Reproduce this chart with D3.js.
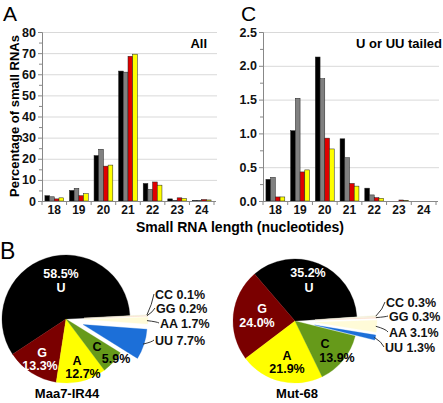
<!DOCTYPE html>
<html><head><meta charset="utf-8">
<script src="https://cdn.jsdelivr.net/npm/d3@7"></script>
<style>
body{margin:0;background:#fff;}
svg{display:block;}
text{font-family:'Liberation Sans',Arial,Helvetica,sans-serif;}
</style></head>
<body><svg id="c" width="443" height="403" font-family="Liberation Sans, Arial, sans-serif"></svg>
<script>
// ---- data ----
const lengths = ["18","19","20","21","22","23","24"];
const seriesNames = ["s1","s2","s3","s4"];
const seriesColors = ["#000000","#808080","#e00000","#ffff00"];
const allValues = [
  [2.5, 5.0, 21.5, 61.5, 8.3, 1.0, 0.2],
  [2.0, 6.0, 24.5, 61.0, 5.5, 0.3, 0.2],
  [1.0, 2.5, 16.5, 68.5, 9.0, 1.5, 0.7],
  [1.5, 3.5, 17.0, 69.5, 7.5, 1.2, 0.5]
];
const tailedValues = [
  [0.32, 1.04, 2.13, 0.92, 0.19, 0.0, 0.0],
  [0.35, 1.52, 1.81, 0.64, 0.09, 0.0, 0.0],
  [0.06, 0.43, 0.93, 0.26, 0.05, 0.015, 0.0],
  [0.06, 0.46, 0.77, 0.22, 0.04, 0.01, 0.0]
];
const allTicks = [0,10,20,30,40,50,60,70,80];
const tailedTicks = [0,0.5,1.0,1.5,2.0,2.5];

const pieNames = ["U","G","A","C","UU","AA","GG","CC"];
const pieColors = ["#000000","#7a0000","#ffff00","#669a1a","#1c6fd8","#fffbd8","#fbe0cf","#f3f0da"];
const maaValues = [58.5, 13.3, 12.7, 5.9, 7.7, 1.7, 0.2, 0.1];
const mutValues = [35.2, 24.0, 21.9, 13.9, 1.3, 3.1, 0.3, 0.3];
const pieTitles = ["Maa7-IR44","Mut-68"];

// ---- layout ----
const svg = d3.select("#c");
const FONT = "Liberation Sans, Arial, sans-serif";
const bold = "bold";

function barChart(opt){
  const g = svg.append("g");
  const x0 = d3.scaleBand().domain(lengths).range([opt.x0, opt.x1]);
  const x1 = d3.scaleBand().domain(seriesNames).range([0, x0.bandwidth()]).paddingOuter(0.62);
  const y = d3.scaleLinear().domain([0, opt.max]).range([201, 32]);
  g.append("g").selectAll("line").data(opt.ticks.slice(1)).join("line")
    .attr("x1", opt.x0).attr("x2", opt.x1 + 3).attr("y1", d=>y(d)+0.5).attr("y2", d=>y(d)+0.5)
    .attr("stroke","#d9d9d9").attr("stroke-width",1);
  opt.values.forEach((vals, si) => {
    g.append("g").selectAll("rect").data(vals).join("rect")
      .attr("x", (d,i)=> x0(lengths[i]) + x1(seriesNames[si]))
      .attr("width", x1.bandwidth())
      .attr("y", d=> y(d))
      .attr("height", d=> Math.max(0, y(0) - y(d)))
      .attr("fill", seriesColors[si])
      .attr("stroke", d => d > 0 ? "#222" : "none").attr("stroke-width", 0.5);
  });
  const ya = g.append("g").attr("transform", `translate(${opt.x0},0)`)
    .call(d3.axisLeft(y).tickValues(opt.ticks).tickSize(4).tickPadding(2).tickFormat(opt.fmt));
  ya.attr("font-family", FONT);
  ya.select(".domain").attr("stroke","#888");
  ya.selectAll(".tick line").attr("stroke","#888");
  ya.selectAll("text").attr("font-size", 12.5).attr("font-weight", bold).attr("fill","#111");
  const minor = opt.ticks.slice(1).map((t,i)=> (t + opt.ticks[i])/2);
  g.append("g").selectAll("line").data(minor).join("line")
    .attr("x1", opt.x0 - 3).attr("x2", opt.x0).attr("y1", d=>y(d)+0.5).attr("y2", d=>y(d)+0.5)
    .attr("stroke","#888");
  g.append("line").attr("x1", opt.x0).attr("x2", opt.x1 + 2).attr("y1", 201.5).attr("y2", 201.5).attr("stroke","#888");
  g.append("g").selectAll("line").data(lengths.concat(["end"])).join("line")
    .attr("x1", d=> d==="end" ? opt.x1 : x0(d)).attr("x2", d=> d==="end" ? opt.x1 : x0(d))
    .attr("y1", 201).attr("y2", 205).attr("stroke","#888");
  g.append("g").selectAll("text").data(lengths).join("text")
    .attr("x", d=> x0(d) + x0.bandwidth()/2).attr("y", 214)
    .attr("text-anchor","middle").attr("font-size", 12).attr("font-weight", bold).attr("fill","#111")
    .text(d=>d);
  g.append("text").attr("x", opt.labelX).attr("y", 48).attr("text-anchor","end")
    .attr("font-size", 13).attr("font-weight", bold).text(opt.label);
}

barChart({x0:42, x1:214, max:80, ticks:allTicks, values:allValues, fmt:d3.format("d"), label:"All", labelX:207});
barChart({x0:263, x1:436, max:2.5, ticks:tailedTicks, values:tailedValues, fmt:d3.format(".1f"), label:"U or UU tailed", labelX:442});

svg.append("text").attr("x", 240).attr("y", 232).attr("text-anchor","middle")
  .attr("font-size", 14).attr("font-weight", bold).text("Small RNA length (nucleotides)");
svg.append("text").attr("transform","translate(19,116) rotate(-90)").attr("text-anchor","middle")
  .attr("font-size", 13).attr("font-weight", bold).text("Percentage of small RNAs");

svg.append("text").attr("x", 3).attr("y", 21).attr("font-size", 21).text("A");
svg.append("text").attr("x", 241).attr("y", 21).attr("font-size", 21).text("C");
svg.append("text").attr("x", 0).attr("y", 259).attr("font-size", 23).text("B");

// ---- pies ----
const pieLayouts = [
  { cx:66, cy:319, r:64, start:87, explode:18,
    inner:{ U:[[61,278,"white"],[61,292,"white"]], G:[[42,357,"white"],[40,370,"white"]],
            A:[[77,365,"#000"],[83,378,"#000"]], C:[[97,351,"#000"],[116,363,"#000"]] },
    lead:{ CC:[154,298], GG:[155,312], AA:[159,327], UU:[154,344] },
    titleX:67 },
  { cx:295, cy:321, r:62, start:86, explode:20,
    inner:{ U:[[308,277,"white"],[309,292,"white"]], G:[[262,313,"white"],[257,327,"white"]],
            A:[[287,360,"#000"],[287,373,"#000"]], C:[[325,348,"#000"],[337,362,"#000"]] },
    lead:{ CC:[385,306], GG:[388,320], AA:[388,336], UU:[384,351] },
    titleX:297 }
];
const explodedSet = new Set(["UU","AA","GG","CC"]);

[maaValues, mutValues].forEach((vals, pi) => {
  const L = pieLayouts[pi];
  const a0 = L.start * Math.PI/180;
  const pie = d3.pie().sort(null).startAngle(a0).endAngle(a0 - 2*Math.PI);
  const arcs = pie(vals);
  const arc = d3.arc().innerRadius(0).outerRadius(L.r);
  const g = svg.append("g").attr("transform", `translate(${L.cx},${L.cy})`);
  arcs.forEach((a, i) => {
    const name = pieNames[i];
    const mid = (a.startAngle + a.endAngle)/2;
    const off = explodedSet.has(name) ? L.explode : 0;
    const dx = off*Math.sin(mid), dy = -off*Math.cos(mid);
    g.append("path").attr("d", arc(a)).attr("transform", `translate(${dx},${dy})`)
      .attr("fill", pieColors[i]).attr("stroke", pieColors[i]).attr("stroke-width", 0.3);
  });
  arcs.forEach((a, i) => {
    const name = pieNames[i];
    const pos = L.inner[name];
    if (!pos) return;
    const txt = name === "U" ? [vals[i].toFixed(1)+"%", name] : [name, vals[i].toFixed(1)+"%"];
    pos.forEach((p, k) => {
      svg.append("text").attr("x", p[0]).attr("y", p[1]).attr("text-anchor","middle")
        .attr("font-size", 12.5).attr("font-weight", bold).attr("fill", p[2]).text(txt[k]);
    });
  });
  arcs.forEach((a, i) => {
    const name = pieNames[i];
    const lp = L.lead[name];
    if (!lp) return;
    const mid = (a.startAngle + a.endAngle)/2;
    const sx = L.cx + (L.explode + L.r - 1)*Math.sin(mid);
    const sy = L.cy - (L.explode + L.r - 1)*Math.cos(mid);
    const ey = lp[1] - 4;
    svg.append("path").attr("d", `M${sx},${sy} Q${lp[0]-2},${(sy+ey)/2} ${lp[0]},${ey}`)
      .attr("fill","none").attr("stroke","#222").attr("stroke-width", 0.9);
    svg.append("text").attr("x", lp[0]+1).attr("y", lp[1]+1)
      .attr("font-size", 12.5).attr("font-weight", bold).attr("fill","#111")
      .text(name + " " + vals[i].toFixed(1) + "%");
  });
  svg.append("text").attr("x", L.titleX).attr("y", 398).attr("text-anchor","middle")
    .attr("font-size", 13).attr("font-weight", bold).text(pieTitles[pi]);
});
</script></body></html>
